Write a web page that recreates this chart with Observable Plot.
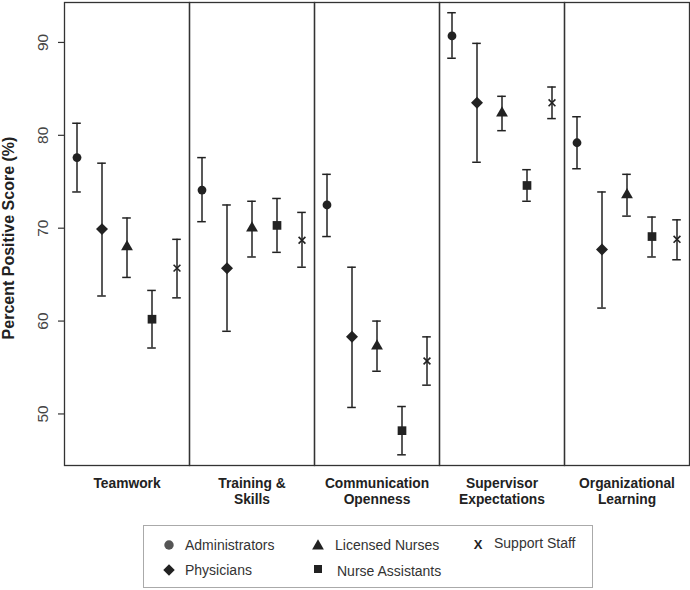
<!DOCTYPE html>
<html><head><meta charset="utf-8">
<script src="https://cdn.jsdelivr.net/npm/d3@7"></script>
<script src="https://cdn.jsdelivr.net/npm/@observablehq/plot@0.6"></script>
<style>
body{margin:0;background:#fff;font-family:"Liberation Sans",Arial,sans-serif;}
#wrap{position:relative;width:690px;height:590px;}
#legend{position:absolute;left:143px;top:525px;width:450px;height:63px;border:1px solid #aaa;box-sizing:border-box;}
#legend svg{position:absolute;left:-1px;top:-1px;overflow:visible;}
</style></head><body>
<div id="wrap"><div id="chart"></div><div id="legend"></div></div>
<script>
const categories = ["Teamwork", "Training & Skills", "Communication Openness", "Supervisor Expectations", "Organizational Learning"];
const categoryLabels = ["Teamwork", "Training &\nSkills", "Communication\nOpenness", "Supervisor\nExpectations", "Organizational\nLearning"];
const groups = ["Administrators", "Physicians", "Licensed Nurses", "Nurse Assistants", "Support Staff"];

const adminMean = [77.6, 74.1, 72.5, 90.7, 79.2];
const adminLow  = [73.9, 70.7, 69.1, 88.3, 76.4];
const adminHigh = [81.3, 77.6, 75.8, 93.2, 82.0];

const physMean = [69.9, 65.7, 58.3, 83.5, 67.7];
const physLow  = [62.7, 58.9, 50.7, 77.1, 61.4];
const physHigh = [77.0, 72.5, 65.8, 89.9, 73.9];

const lnMean = [68.0, 70.0, 57.3, 82.4, 73.6];
const lnLow  = [64.7, 66.9, 54.6, 80.5, 71.3];
const lnHigh = [71.1, 72.9, 60.0, 84.2, 75.8];

const naMean = [60.2, 70.3, 48.2, 74.6, 69.1];
const naLow  = [57.1, 67.4, 45.6, 72.9, 66.9];
const naHigh = [63.3, 73.2, 50.8, 76.3, 71.2];

const ssMean = [65.7, 68.7, 55.7, 83.5, 68.8];
const ssLow  = [62.5, 65.8, 53.1, 81.8, 66.6];
const ssHigh = [68.8, 71.7, 58.3, 85.2, 70.9];

const yTicks = [50, 60, 70, 80, 90];
const yLabel = "Percent Positive Score (%)";

const series = [
  [adminMean, adminLow, adminHigh],
  [physMean, physLow, physHigh],
  [lnMean, lnLow, lnHigh],
  [naMean, naLow, naHigh],
  [ssMean, ssLow, ssHigh]
];
const rows = [];
groups.forEach((g, gi) => {
  categories.forEach((c, ci) => {
    rows.push({group: g, category: c, mean: series[gi][0][ci], low: series[gi][1][ci], high: series[gi][2][ci]});
  });
});

const ink = "#222";
const markerStyle = {
  "Administrators":   {symbol: "circle",   r: 4.4, filled: true},
  "Physicians":       {symbol: "diamond2", r: 5.4, filled: true},
  "Licensed Nurses":  {symbol: "triangle", r: 4.4, filled: true},
  "Nurse Assistants": {symbol: "square",   r: 4.9, filled: true},
  "Support Staff":    {symbol: "times",    r: 3.2, filled: false}
};

const dotMarks = groups.map(g => {
  const s = markerStyle[g];
  return Plot.dot(rows.filter(d => d.group === g), {
    fx: "category", x: "group", y: "mean", symbol: s.symbol, r: s.r,
    fill: s.filled ? ink : "none", stroke: s.filled ? "none" : ink, strokeWidth: s.filled ? 0 : 1.6
  });
});

const first = [{category: categories[0]}];

const plot = Plot.plot({
  width: 690, height: 515,
  marginLeft: 64, marginRight: 1, marginTop: 2, marginBottom: 50,
  style: {fontFamily: '"Liberation Sans", Arial, sans-serif', background: "#fff", color: ink},
  fx: {domain: categories, padding: 0, axis: null},
  x: {domain: groups, padding: 0, axis: null},
  y: {domain: [44.45, 94.3], axis: null},
  marks: [
    Plot.frame({stroke: "#333", strokeWidth: 1.3}),
    Plot.axisY({ticks: yTicks, tickSize: 6, tickFormat: () => "", label: null, stroke: "#333", strokeWidth: 1.2}),
    Plot.text(yTicks.map(v => ({v, category: categories[0]})), {
      fx: "category", y: "v", text: d => String(d.v), frameAnchor: "left", dx: -21,
      rotate: -90, textAnchor: "middle", lineAnchor: "middle", fontSize: 15.5, fill: "#444"
    }),
    Plot.text(first, {
      fx: "category", frameAnchor: "left", dx: -55.5, dy: 4, rotate: -90, text: () => yLabel,
      textAnchor: "middle", lineAnchor: "middle", fontSize: 16, fontWeight: "bold", fill: ink
    }),
    Plot.axisFx({anchor: "bottom", label: null, tickSize: 0, tickPadding: 12,
      tickFormat: c => categoryLabels[categories.indexOf(c)],
      fontSize: 13.8, fontWeight: "bold", lineHeight: 1.12, fill: ink}),
    Plot.ruleX(rows, {fx: "category", x: "group", y1: "low", y2: "high", stroke: ink, strokeWidth: 1.5}),
    Plot.tickY(rows, {fx: "category", x: "group", y: "high", insetLeft: 8.2, insetRight: 8.2, stroke: ink, strokeWidth: 1.5}),
    Plot.tickY(rows, {fx: "category", x: "group", y: "low", insetLeft: 8.2, insetRight: 8.2, stroke: ink, strokeWidth: 1.5}),
    ...dotMarks
  ]
});
document.getElementById("chart").appendChild(plot);

// Legend
const legendItems = [
  {label: groups[0], sx: 26, sy: 20, tx: 42, ty: 20, draw: "circle"},
  {label: groups[2], sx: 175, sy: 21, tx: 192, ty: 20, draw: "triangle"},
  {label: groups[4], sx: 335, sy: 19, tx: 351, ty: 18, draw: "x"},
  {label: groups[1], sx: 26, sy: 45, tx: 42, ty: 45, draw: "diamond"},
  {label: groups[3], sx: 175, sy: 44, tx: 194, ty: 46, draw: "square"}
];
const svg = d3.select("#legend").append("svg").attr("width", 450).attr("height", 63)
  .style("font-family", '"Liberation Sans", Arial, sans-serif');
legendItems.forEach(it => {
  if (it.draw === "x") {
    svg.append("text").attr("x", it.sx).attr("y", it.sy).attr("text-anchor", "middle")
      .attr("dominant-baseline", "central").attr("font-size", 13).attr("font-weight", "bold")
      .attr("fill", ink).text("X");
  } else {
    const type = {circle: d3.symbolCircle, triangle: d3.symbolTriangle, diamond: d3.symbolDiamond2, square: d3.symbolSquare}[it.draw];
    const size = {circle: 70, triangle: 60, diamond: 85, square: 64}[it.draw];
    svg.append("path").attr("d", d3.symbol(type, size)())
      .attr("transform", `translate(${it.sx},${it.sy})`)
      .attr("fill", it.draw === "circle" ? "#555" : ink);
  }
  svg.append("text").attr("x", it.tx).attr("y", it.ty).attr("dominant-baseline", "central")
    .attr("font-size", 14).attr("fill", "#333").text(it.label);
});
</script>
</body></html>
